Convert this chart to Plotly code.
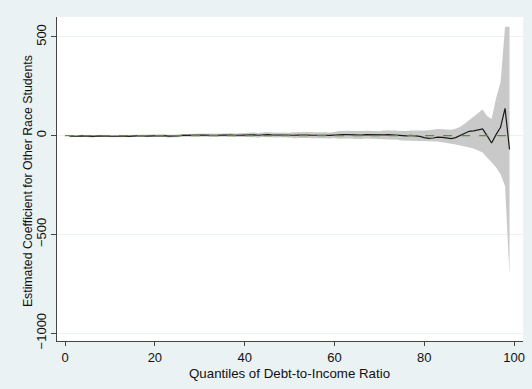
import plotly.graph_objects as go

quantiles = list(range(1, 100))

coef = [-3, -4, -2, -1, -3, -4, -2, 0, -1, -3,
        -2, -1, -3, -4, -2, -1, 0, -2, -1, 1,
        2, 0, -2, -3, -1, 1, 2, 2, 1, 2,
        3, 2, 1, 2, 3, 4, 3, 2, 3, 4,
        5, 4, 2, 5, 6, 4, 3, 5, 4, 3,
        2, 3, 4, 3, 2, 3, 4, 2, 1, 3,
        4, 6, 5, 4, 2, 3, 5, 4, 3, 2,
        4, 5, 3, 2, 0, -1, 1, 0, -4, -10,
        -14, -12, -7, -9, -13, -15, -10, 0, 12, 22,
        24, 28, 34, 0, -37, 5, 42, 138, -70]

upper = [2, 1, 3, 4, 2, 1, 3, 5, 4, 2,
         4, 5, 3, 2, 4, 5, 6, 4, 5, 7,
         9, 7, 5, 4, 6, 8, 9, 9, 8, 9,
         12, 11, 10, 11, 12, 13, 12, 11, 12, 13,
         17, 16, 14, 17, 18, 16, 15, 17, 16, 15,
         17, 18, 19, 18, 17, 18, 19, 17, 16, 18,
         24, 26, 25, 24, 22, 23, 25, 24, 23, 22,
         26, 27, 26, 25, 24, 23, 26, 25, 25, 26,
         28, 30, 34, 32, 30, 30, 35, 45, 60, 78,
         95, 115, 132, 100, 85, 190, 270, 552, 552]

lower = [-8, -9, -7, -6, -8, -9, -7, -5, -6, -8,
         -8, -7, -9, -10, -8, -7, -6, -8, -7, -5,
         -5, -7, -9, -10, -8, -6, -5, -5, -6, -5,
         -6, -7, -8, -7, -6, -5, -6, -7, -6, -5,
         -7, -8, -10, -7, -6, -8, -9, -7, -8, -9,
         -13, -12, -11, -12, -13, -12, -11, -13, -14, -12,
         -16, -14, -15, -16, -18, -17, -15, -16, -17, -18,
         -18, -17, -20, -21, -24, -25, -24, -25, -25, -28,
         -30, -30, -30, -34, -37, -40, -45, -50, -55, -60,
         -65, -75, -85, -110, -135, -160, -195, -255, -709]

ref_x = [0, 100]
ref_y = [0, 0]

x_ticks = [0, 20, 40, 60, 80, 100]
y_ticks = [-1000, -500, 0, 500]

x_title = "Quantiles of Debt-to-Income Ratio"
y_title = "Estimated Coefficient for Other Race Students"

font = "Liberation Sans, Arial, sans-serif"

fig = go.Figure()
fig.add_trace(go.Scatter(x=quantiles, y=upper, mode="lines",
                         line=dict(width=0, color="#C9C9C9"),
                         showlegend=False, hoverinfo="skip"))
fig.add_trace(go.Scatter(x=quantiles, y=lower, mode="lines",
                         line=dict(width=0, color="#C9C9C9"),
                         fill="tonexty", fillcolor="#C9C9C9",
                         showlegend=False, hoverinfo="skip"))
fig.add_trace(go.Scatter(x=quantiles, y=coef, mode="lines",
                         line=dict(width=1.2, color="#1A1A1A"),
                         showlegend=False))
fig.add_trace(go.Scatter(x=ref_x, y=ref_y, mode="lines",
                         line=dict(width=1.2, color="#5E8C3C", dash="dash"),
                         showlegend=False))

W, H = 532, 389
L, R, T, B = 57, 7, 17, 48
pw, ph = W - L - R, H - T - B

fig.update_layout(
    width=W, height=H,
    margin=dict(l=L, r=R, t=T, b=B),
    paper_bgcolor="#EAF2F3",
    plot_bgcolor="#FFFFFF",
    font=dict(family=font, size=13, color="#111111"),
    xaxis=dict(
        range=[-1.8, 102], tickvals=x_ticks, ticks="outside", ticklen=4,
        tickcolor="#444444", showline=True, linecolor="#444444", linewidth=1,
        showgrid=False, zeroline=False,
        tickfont=dict(size=13),
    ),
    yaxis=dict(
        range=[-1040, 601], tickvals=y_ticks, ticks="outside", ticklen=5,
        tickcolor="#444444", showline=True, linecolor="#444444", linewidth=1,
        showgrid=True, gridcolor="#EAF2F3", gridwidth=1, zeroline=False,
        tickangle=-90,
        tickfont=dict(size=13),
    ),
    annotations=[
        dict(text=x_title, xref="paper", yref="paper",
             x=(290 - L) / pw, y=-(373 - (T + ph)) / ph,
             xanchor="center", yanchor="middle", showarrow=False,
             font=dict(size=13.3)),
        dict(text=y_title, xref="paper", yref="paper",
             x=-(L - 28) / pw, y=1 - (181 - T) / ph,
             xanchor="center", yanchor="middle", showarrow=False,
             textangle=-90, font=dict(size=12.3)),
    ],
)

fig.write_html("out.html")
